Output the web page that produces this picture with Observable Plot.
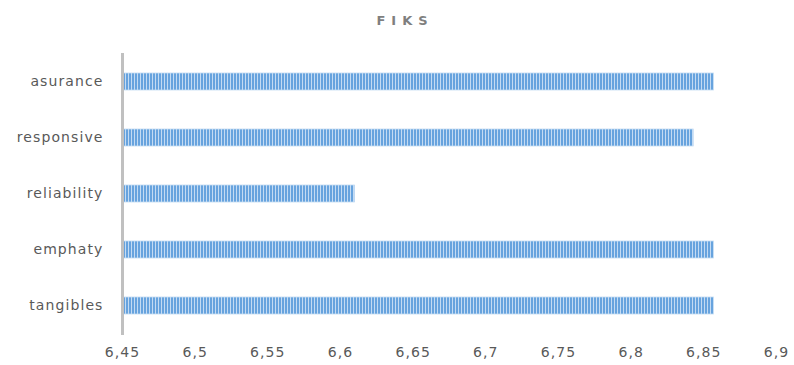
<!DOCTYPE html>
<html>
<head>
<meta charset="utf-8">
<script src="https://cdn.jsdelivr.net/npm/d3@7"></script>
<script src="https://cdn.jsdelivr.net/npm/@observablehq/plot@0.6"></script>
<style>
  html, body { margin: 0; padding: 0; background: #fff; }
  #chart { width: 794px; height: 365px; }
  #chart svg g[aria-label="x-axis tick label"] text,
  #chart svg g[aria-label="y-axis tick label"] text { letter-spacing: 1.1px; }
</style>
</head>
<body>
<div id="chart"></div>
<script>
// Service-quality dimensions and their mean scores
const dimensions = ["asurance", "responsive", "reliability", "emphaty", "tangibles"];
const scores = [6.857, 6.843, 6.610, 6.857, 6.857];
const xTicks = [6.45, 6.5, 6.55, 6.6, 6.65, 6.7, 6.75, 6.8, 6.85, 6.9];
const xDomain = [6.45, 6.9];
const chartTitle = "FIKS";

const rows = dimensions.map((d, i) => ({dimension: d, score: scores[i]}));
const fmt = v => String(v).replace(".", ",");

const plot = Plot.plot({
  width: 794,
  height: 365,
  marginLeft: 122,
  marginRight: 18,
  marginTop: 53,
  marginBottom: 30,
  style: {fontFamily: "DejaVu Sans", fontSize: "14px", color: "#595959", background: "#fff"},
  x: {domain: xDomain, ticks: xTicks, tickFormat: fmt, tickSize: 0, tickPadding: 12, label: null},
  y: {domain: dimensions, paddingInner: 0.69, paddingOuter: 0.345, align: 0.5, tickSize: 0, tickPadding: 19, label: null},
  marks: [
    Plot.barX(rows, {
      y: "dimension",
      x1: () => xDomain[0],
      x2: "score",
      fill: "url(#stripes)",
      stroke: "#c3dbf3",
      strokeWidth: 0.8
    }),
    Plot.ruleX([xDomain[0]], {stroke: "#c0c0c0", strokeWidth: 3})
  ]
});

// Vertical-stripe fill used by the bars
const svg = d3.select(plot);
const pat = svg.insert("defs", ":first-child")
  .append("pattern")
  .attr("id", "stripes")
  .attr("patternUnits", "userSpaceOnUse")
  .attr("width", 3)
  .attr("height", 10);
pat.append("rect").attr("width", 3).attr("height", 10).attr("fill", "#67a3de");
pat.append("rect").attr("x", 2).attr("width", 1).attr("height", 10).attr("fill", "#c4dbf3");

// Chart heading
svg.append("text")
  .attr("x", 405)
  .attr("y", 25)
  .attr("text-anchor", "middle")
  .attr("font-family", "DejaVu Sans")
  .attr("font-size", 13)
  .attr("font-weight", "bold")
  .attr("letter-spacing", 6)
  .attr("fill", "#7f7f7f")
  .text(chartTitle);

document.getElementById("chart").append(plot);
</script>
</body>
</html>
